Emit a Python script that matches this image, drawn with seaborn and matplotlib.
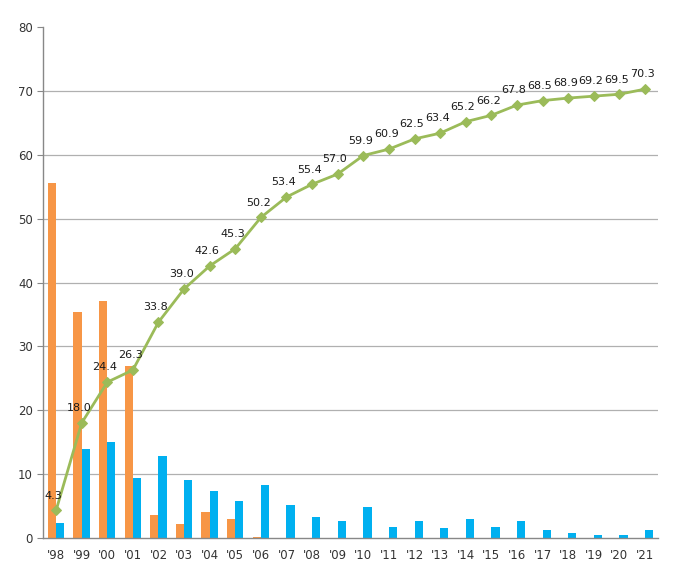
import numpy as np
import pandas as pd
import matplotlib
matplotlib.use("Agg")
import matplotlib.pyplot as plt
import seaborn as sns

# data
years = ["'98", "'99", "'00", "'01", "'02", "'03", "'04", "'05", "'06", "'07", "'08", "'09",
         "'10", "'11", "'12", "'13", "'14", "'15", "'16", "'17", "'18", "'19", "'20", "'21"]
orange_vals = [55.6, 35.4, 37.1, 27.0, 3.6, 2.2, 4.0, 2.9, 0.2, 0, 0, 0,
               0, 0, 0, 0, 0, 0, 0, 0, 0, 0, 0, 0]
blue_vals = [2.4, 14.0, 15.0, 9.4, 12.9, 9.1, 7.4, 5.8, 8.3, 5.1, 3.3, 2.7,
             4.8, 1.7, 2.7, 1.6, 2.9, 1.7, 2.7, 1.25, 0.7, 0.5, 0.5, 1.25]
line_vals = [4.3, 18.0, 24.4, 26.3, 33.8, 39.0, 42.6, 45.3, 50.2, 53.4, 55.4, 57.0,
             59.9, 60.9, 62.5, 63.4, 65.2, 66.2, 67.8, 68.5, 68.9, 69.2, 69.5, 70.3]

sns.set_style("white")
plt.rcParams["font.family"] = ["DejaVu Sans"]

bars = pd.DataFrame({
    "year": years * 2,
    "value": orange_vals + blue_vals,
    "series": ["a"] * len(years) + ["b"] * len(years),
})
line_df = pd.DataFrame({"x": np.arange(len(years)), "value": line_vals})

fig = plt.figure(figsize=(6.76, 5.79), dpi=100)
ax = fig.add_axes([0.064, 0.071, 0.909, 0.882])

ax.yaxis.grid(True, color="#b0b0b0", linewidth=0.9)
ax.set_axisbelow(True)

sns.barplot(data=bars, x="year", y="value", hue="series", order=years,
            palette={"a": "#f79646", "b": "#00b0f0"}, width=0.64, gap=0,
            saturation=1, linewidth=0, legend=False, ax=ax)

sns.lineplot(data=line_df, x="x", y="value", color="#9bbb59", linewidth=2,
             marker="D", markersize=5, markeredgecolor="#9bbb59", ax=ax)

for i, v in enumerate(line_vals):
    ax.annotate(f"{v:.1f}", (i, v), xytext=(-2, 7), textcoords="offset points",
                ha="center", va="bottom", fontsize=8, color="#1a1a1a")

ax.set_xlim(-0.5, len(years) - 0.5)
ax.set_ylim(0, 80)
ax.set_yticks(range(0, 81, 10))
ax.set_xlabel("")
ax.set_ylabel("")

# ticks between categories on the x axis
ax.set_xticks(np.arange(len(years)))
ax.set_xticklabels(years)
ax.set_xticks(np.arange(-0.5, len(years)), minor=True)
ax.tick_params(axis="x", which="major", length=0, pad=8, labelsize=8.5, labelcolor="#333333")
ax.tick_params(axis="x", which="minor", length=4, color="#888888", direction="out")
ax.tick_params(axis="y", length=4, color="#888888", direction="out", labelsize=8.5,
               labelcolor="#333333", left=True)

for s in ["top", "right"]:
    ax.spines[s].set_visible(False)
for s in ["left", "bottom"]:
    ax.spines[s].set_color("#888888")
    ax.spines[s].set_linewidth(1)

# no gridline at the top or on the axis
ax.yaxis.get_gridlines()[-1].set_visible(False)
ax.yaxis.get_gridlines()[0].set_visible(False)

fig.savefig("out.png", dpi=100)
